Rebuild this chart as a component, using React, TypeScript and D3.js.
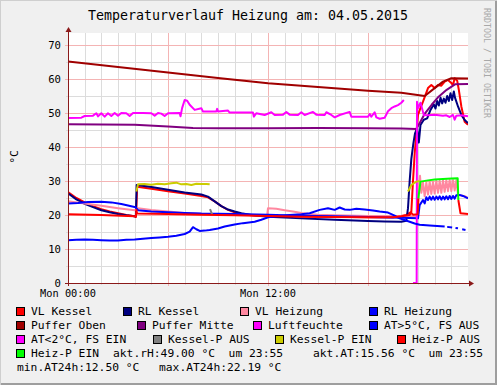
import React from "react";
import * as d3 from "d3";

type Pt = [number, number];

const title = "Temperaturverlauf Heizung am: 04.05.2015";
const yAxisLabel = "°C";
const watermark = "RRDTOOL / TOBI OETIKER";
const xTickLabels: [number, string][] = [[0, "Mon 00:00"], [12, "Mon 12:00"]];
const yTickValues = [0, 10, 20, 30, 40, 50, 60, 70];

// time in hours, value in °C (or %rH); NaN = no data
const vlKessel: Pt[] = [
  [0, 26.7], [0.5, 25.0], [1, 23.7], [1.5, 22.6], [2, 21.7], [2.5, 21.0], [3, 20.5], [3.5, 20.0],
  [4.0, 19.6], [4.07, 19.4], [4.1, 21.6], [4.15, 28.3], [5, 27.7], [6, 27.0], [7, 26.3], [8, 25.6],
  [8.4, 25.2], [8.8, 24.0], [9.2, 22.6], [9.6, 21.5], [10, 20.8], [10.5, 20.2], [11, 19.9], [12, 19.7],
  [14, 19.6], [16, 19.5], [18, 19.3], [19.5, 19.3], [20, 19.7], [20.3, 20.0], [20.5, 20.6], [20.6, 21.0],
  [20.7, 30], [20.8, 38], [20.9, 44], [21.0, 49.4], [21.15, 51.5], [21.3, 53.3], [21.45, 55.3],
  [21.6, 57.3], [21.8, 58.2], [22.0, 57.3], [22.2, 58.2], [22.4, 58.0], [22.6, 59.2], [22.8, 59.7],
  [23.0, 58.8], [23.1, 58.2], [23.2, 60.2], [23.35, 59.5], [23.45, 56.8], [23.6, 51.9], [23.8, 47.4],
  [24, 46.5],
];
const rlKessel: Pt[] = [
  [0, 26.4], [0.5, 24.6], [1, 23.3], [1.5, 22.3], [2, 21.4], [2.5, 20.8], [3, 20.3], [3.5, 19.9],
  [4.0, 19.6], [4.07, 19.6], [4.12, 28.8], [5, 28.2], [6, 27.4], [7, 26.6], [8, 26.0], [8.4, 25.4],
  [8.8, 24.0], [9.2, 22.6], [9.6, 21.6], [10, 21.0], [10.4, 20.5], [11, 20.0], [12, 19.5], [14, 19.0],
  [16, 18.6], [18, 18.2], [19, 18.1], [20, 18.0], [20.3, 18.3], [20.4, 22], [20.5, 30], [20.6, 36.5],
  [20.72, 41], [20.82, 44], [20.95, 45.5], [21.05, 41.3], [21.15, 46.5], [21.35, 48], [21.55, 48.4],
  [21.75, 50.9], [21.95, 52.5], [22.05, 51.3], [22.15, 53.5], [22.25, 52.2], [22.35, 54.5],
  [22.45, 52.8], [22.55, 54.2], [22.65, 53.0], [22.75, 55.0], [22.85, 53.5], [22.95, 55.8],
  [23.05, 53.8], [23.15, 56.3], [23.22, 54.5], [23.4, 51.9], [23.6, 49.4], [23.8, 47.9], [24, 47.0],
];
const vlHeizung: Pt[] = [
  [0, 24.0], [1, 23.4], [2, 22.7], [3, 22.0], [4, 21.4], [4.1, 21.6], [4.2, 22.0], [5, 21.5], [6, 21.0],
  [7, 20.6], [8, 20.3], [9, 20.2], [10, 20.1], [11, 20.0], [11.95, 19.9], [12.0, 22.0], [12.5, 21.8],
  [13, 21.4], [13.5, 21.0], [14, 20.6], [14.5, 20.3], [15, 20.1], [16, 19.9], [18, 19.7], [20, 19.6],
  [21.0, 19.6], [21.05, 28.8], [21.12, 31.5], [21.2, 26.5], [21.3, 29.6], [21.4, 25.5], [21.5, 29.6],
  [21.6, 26.0], [21.7, 29.8], [21.8, 26.2], [21.9, 29.8], [22.0, 26.3], [22.1, 30.0], [22.2, 26.5],
  [22.3, 30.0], [22.4, 26.5], [22.5, 30.2], [22.6, 26.8], [22.7, 30.2], [22.8, 27.0], [22.9, 30.3],
  [23.0, 27.0], [23.1, 30.3], [23.2, 27.2], [23.3, 30.2], [23.4, 26.0], [23.5, 25.8], [23.8, 25.5],
  [24, 25.0],
];
const rlHeizung: Pt[] = [
  [0, 23.4], [0.6, 23.5], [1.2, 23.8], [2, 23.9], [2.6, 23.7], [3.2, 23.2], [3.6, 22.8], [4.05, 22.3],
  [4.2, 21.4], [5, 21.0], [6, 20.8], [7, 20.6], [8, 20.4], [10, 20.3], [12, 20.1], [14, 19.8],
  [16, 19.6], [18, 19.4], [20, 19.2], [21.0, 19.0], [21.1, 22.9], [21.3, 24.4], [21.4, 23.4],
  [21.5, 25.2], [21.6, 24.4], [21.7, 25.4], [21.8, 24.5], [21.9, 25.4], [22.0, 24.5], [22.1, 25.4],
  [22.2, 24.6], [22.3, 25.5], [22.4, 24.5], [22.5, 25.4], [22.6, 24.6], [22.7, 25.5], [22.8, 24.6],
  [22.9, 25.6], [23.0, 24.7], [23.1, 25.6], [23.2, 24.8], [23.3, 25.8], [23.5, 25.9], [23.7, 25.6],
  [24, 24.9],
];
const pufferOben: Pt[] = [
  [0, 65.1], [3, 63.5], [6, 61.9], [9, 60.3], [12, 58.7], [15, 57.6], [18, 56.5], [20, 55.9],
  [21.4, 55.0], [22.0, 57.3], [22.5, 59.2], [23.0, 60.2], [24, 60.1],
];
const pufferMitte: Pt[] = [
  [0, 46.7], [2, 46.6], [4, 46.5], [6, 46.0], [7.5, 45.6], [9, 45.5], [12, 45.5], [15, 45.6],
  [18, 45.5], [20, 45.4], [20.9, 45.3], [21.15, 47.5], [21.42, 49.9], [21.82, 52.4], [22.2, 54.6],
  [22.72, 56.8], [23.22, 58.4], [24, 58.5],
];
const luftfeuchte: Pt[] = [
  [0, 48.5], [0.8, 48.6], [1.0, 49.1], [1.5, 49.2], [1.7, 49.9], [1.8, 49.0], [2.0, 49.9], [2.2, 48.9],
  [2.4, 49.9], [2.6, 49.1], [2.8, 50.0], [3.0, 49.2], [3.2, 50.0], [3.5, 49.9], [3.7, 49.1], [3.9, 50.0],
  [4.5, 50.0], [5.0, 49.9], [5.2, 49.2], [5.4, 50.0], [5.6, 49.8], [5.8, 49.1], [6.0, 49.9], [6.7, 50.0],
  [6.75, 49.0], [6.85, 51.5], [7.0, 53.8], [7.15, 53.6], [7.3, 52.4], [7.6, 50.9], [8.0, 51.4],
  [8.1, 50.4], [8.9, 50.4], [8.95, 51.2], [9.0, 50.4], [9.6, 50.7], [9.7, 50.1], [11.1, 50.1],
  [11.15, 48.9], [11.3, 49.9], [11.8, 49.4], [12.2, 50.2], [12.4, 49.4], [12.9, 49.5], [13.1, 50.3],
  [13.3, 49.5], [13.8, 49.4], [14.0, 50.2], [14.2, 49.4], [14.7, 50.3], [14.9, 49.5], [15.4, 49.4],
  [15.5, 50.2], [15.8, 49.4], [16.0, 48.7], [16.3, 49.4], [16.9, 50.3], [17.0, 48.9], [18.0, 48.9],
  [18.1, 49.7], [18.2, 48.9], [18.4, 50.2], [18.5, 48.7], [18.7, 48.3], [19.0, 48.6], [19.2, 50.5],
  [19.4, 51.4], [19.6, 51.9], [19.8, 52.3], [20.0, 53.0], [20.15, 53.8], [20.25, NaN], [20.7, 0],
  [20.92, 0], [20.94, 53.3], [21.0, 51.4], [21.15, 53.0], [21.35, 49.4], [21.6, 49.3], [22.0, 49.5],
  [22.5, 49.2], [22.7, 49.3], [22.9, 48.8], [23.1, 49.4], [23.2, 48.0], [23.3, 49.2], [23.6, 49.3],
  [24, 49.0],
];
const atWarm: Pt[] = [
  [0, 12.6], [0.5, 12.7], [1, 12.8], [1.5, 12.7], [2, 12.6], [2.5, 12.5], [3, 12.5], [3.5, 12.7],
  [4, 12.8], [4.5, 13.0], [5, 13.2], [5.5, 13.4], [6, 13.6], [6.5, 13.9], [7, 14.4], [7.3, 15.1],
  [7.5, 16.4], [7.7, 15.8], [7.9, 15.3], [8.2, 15.4], [8.5, 15.6], [9, 16.0], [9.4, 16.6], [10, 17.2],
  [10.5, 17.6], [11.2, 18.0], [11.6, 18.6], [12, 19.3], [12.7, 19.7], [13.3, 20.0], [14, 20.2],
  [14.5, 20.5], [15.1, 21.5], [15.6, 22.0], [16, 21.5], [16.3, 22.2], [16.6, 21.6], [16.9, 21.5],
  [17.3, 21.8], [17.8, 21.6], [18.3, 21.3], [18.7, 21.0], [19.2, 20.7], [19.6, 19.8], [19.9, 19.0],
  [20.5, 18.0], [20.8, 17.5], [21.1, 17.1], [21.7, 16.9], [22.6, 16.6], [22.65, NaN], [22.75, 16.5],
  [23.05, 16.3], [23.1, NaN], [23.25, 16.2], [23.4, 16.1], [23.45, NaN], [23.65, 15.8], [23.85, 15.6],
];
const atCold: Pt[] = [];
const kesselPAus: Pt[] = [[8.52, 21.7], [8.66, 20.0]];
const kesselPEin: Pt[] = [
  [4.1, 26.9], [4.2, 29.0], [4.6, 29.1], [5, 28.9], [5.4, 29.2], [5.8, 29.0], [6.2, 29.3], [6.5, 29.5],
  [6.8, 29.0], [7.1, 29.1], [7.4, 28.8], [7.7, 29.2], [8.0, 29.1], [8.3, 29.1], [8.5, 29.0], [8.55, NaN],
  [20.4, 26.9], [20.6, 28.8], [20.9, 29.8], [21.1, 30.0],
];
const heizPAus: Pt[] = [
  [0, 20.2], [2, 20.0], [4, 19.6], [4.08, 19.6], [4.1, 21.5], [4.15, 20.4], [6, 20.3], [8, 20.1],
  [10, 19.9], [12, 19.7], [14, 19.5], [16, 19.4], [18, 19.3], [19.5, 19.3], [20, 19.6], [20.5, 20.0],
  [20.6, 20.6], [20.7, 20.1], [20.98, 20.2], [21.02, 24.9], [21.03, NaN], [23.42, 24.4], [23.55, 20.5],
  [24, 20.3],
];
const heizPEin: Pt[] = [
  [21.02, 24.9], [21.15, 29.8], [21.5, 30.1], [22, 30.4], [22.5, 30.6], [23, 30.7], [23.38, 30.8],
  [23.42, 24.4],
];

const seriesNames = [
  "VL Kessel", "RL Kessel", "VL Heizung", "RL Heizung", "Puffer Oben", "Puffer Mitte", "Luftfeuchte",
  "AT>5°C, FS AUS", "AT<2°C, FS EIN", "Kessel-P AUS", "Kessel-P EIN", "Heiz-P AUS", "Heiz-P EIN",
];
const seriesData = [
  vlKessel, rlKessel, vlHeizung, rlHeizung, pufferOben, pufferMitte, luftfeuchte,
  atWarm, atCold, kesselPAus, kesselPEin, heizPAus, heizPEin,
];
const seriesColors = [
  "#ff0000", "#000080", "#ff88a0", "#0000ff", "#a00000", "#800080", "#ff00ff",
  "#0000ff", "#ff00ff", "#808080", "#cccc00", "#ff0000", "#00ff00",
];
const comments = [
  "akt.rH:49.00 °C  um 23:55", "akt.AT:15.56 °C  um 23:55",
  "min.AT24h:12.50 °C", "max.AT24h:22.19 °C",
];

// legend layout: swatch left edge per row
const legendRows = [[0, 1, 2, 3], [4, 5, 6, 7], [8, 9, 10, 11], [12]];
const legendX = [[16, 123, 240, 369], [16, 137, 253, 369], [16, 153, 275, 397], [16]];
const commentPos: [number, number][] = [[113, 3], [313, 3], [17, 4], [159, 4]];

const W = 497;
const H = 385;
const plot = { left: 68, right: 468, top: 33, bottom: 283 };
const mono = "DejaVu Sans Mono, monospace";
const axisColor = "#8b1a1a";
const minorGrid = "#dcdcdc";
const majorGrid = "#f4b4b4";

export default function App() {
  const x = d3.scaleLinear().domain([0, 24]).range([plot.left, plot.right]);
  const y = d3.scaleLinear().domain([0, 73.5]).range([plot.bottom, plot.top]);
  const line = d3.line<Pt>()
    .defined(d => !isNaN(d[1]))
    .x(d => x(d[0]))
    .y(d => y(d[1]));

  const hours = d3.range(1, 24);
  const yGrid = d3.range(5, 73, 5);
  const rowY = (r: number) => 315 + r * 14;

  return (
    <svg width={W} height={H} style={{ position: "absolute", left: 0, top: 0 }} fontFamily={mono}>
      <rect x={0} y={0} width={W} height={H} fill="#f0f0f0" />
      <path d={`M0,${H} V0 H${W}`} stroke="#cfcfcf" strokeWidth={2} fill="none" />
      <path d={`M1,${H - 1} H${W - 1} V1`} stroke="#9e9e9e" strokeWidth={2} fill="none" />

      <text x={248} y={20} fontSize={13.3} textAnchor="middle" fill="#000">{title}</text>
      <text transform="translate(483.5,8) rotate(90)" fontSize={8.3} fill="#a8a8a8">{watermark}</text>
      <text transform="translate(18,157) rotate(-90)" fontSize={11.3} textAnchor="middle" fill="#000">{yAxisLabel}</text>

      <rect x={plot.left} y={plot.top} width={plot.right - plot.left} height={plot.bottom - plot.top} fill="#fff" />

      {hours.map(h => (
        <line key={"v" + h} x1={Math.round(x(h)) + 0.5} x2={Math.round(x(h)) + 0.5}
          y1={plot.top} y2={plot.bottom + (h % 6 === 0 ? 3 : 2)}
          stroke={h % 6 === 0 ? majorGrid : minorGrid} strokeWidth={1} />
      ))}
      {yGrid.map(v => (
        <line key={"h" + v} y1={Math.round(y(v)) + 0.5} y2={Math.round(y(v)) + 0.5}
          x1={plot.left - (v % 10 === 0 ? 3 : 2)} x2={plot.right}
          stroke={v % 10 === 0 ? majorGrid : minorGrid} strokeWidth={1} />
      ))}

      {yTickValues.map(v => (
        <text key={"yl" + v} x={61} y={y(v) + 4} fontSize={10.6} textAnchor="end" fill="#000">{v}</text>
      ))}
      {xTickLabels.map(([h, s]) => (
        <text key={"xl" + h} x={x(h)} y={297} fontSize={10.3} textAnchor="middle" fill="#000">{s}</text>
      ))}

      <defs>
        <clipPath id="plotclip">
          <rect x={plot.left} y={plot.top - 5} width={plot.right - plot.left} height={plot.bottom - plot.top + 5} />
        </clipPath>
      </defs>
      <g clipPath="url(#plotclip)">
        {seriesData.map((d, i) => (
          <path key={"s" + i} d={line(d) || ""} fill="none" stroke={seriesColors[i]} strokeWidth={2}
            strokeLinejoin="round" strokeLinecap="butt" />
        ))}
      </g>

      <line x1={plot.left + 0.5} x2={plot.left + 0.5} y1={plot.bottom + 3} y2={plot.top - 3} stroke={axisColor} strokeWidth={1} />
      <line x1={plot.left - 3} x2={plot.right + 3} y1={plot.bottom + 0.5} y2={plot.bottom + 0.5} stroke={axisColor} strokeWidth={1} />
      <polygon points={`${plot.left - 2.5},${plot.top - 1} ${plot.left + 3.5},${plot.top - 1} ${plot.left + 0.5},${plot.top - 6}`} fill={axisColor} />
      <polygon points={`${plot.right + 1},${plot.bottom - 2.5} ${plot.right + 1},${plot.bottom + 3.5} ${plot.right + 6},${plot.bottom + 0.5}`} fill={axisColor} />

      {legendRows.map((row, r) => row.map((si, k) => {
        const sx = legendX[r][k];
        const by = rowY(r);
        return (
          <g key={"lg" + si}>
            <rect x={sx + 0.5} y={by - 7.5} width={8} height={8} fill={seriesColors[si]} stroke="#000" strokeWidth={1} />
            <text x={sx + 15} y={by} fontSize={11.3} fill="#000" style={{ whiteSpace: "pre" }}>{seriesNames[si]}</text>
          </g>
        );
      }))}
      {comments.map((c, i) => (
        <text key={"c" + i} x={commentPos[i][0]} y={rowY(commentPos[i][1])} fontSize={11.3} fill="#000"
          style={{ whiteSpace: "pre" }}>{c}</text>
      ))}
    </svg>
  );
}
